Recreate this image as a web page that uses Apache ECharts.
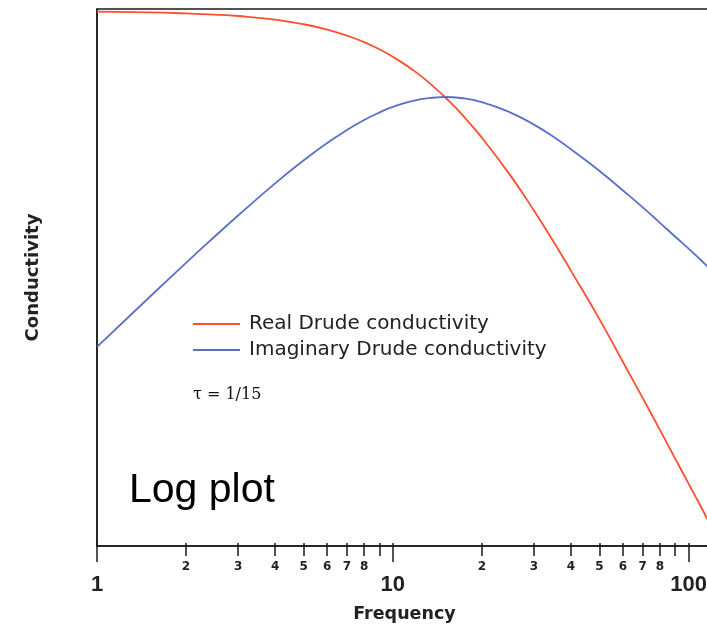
<!DOCTYPE html>
<html>
<head>
<meta charset="utf-8">
<script src="https://cdn.jsdelivr.net/npm/echarts@6/dist/echarts.min.js"></script>
<style>
html,body{margin:0;padding:0;background:#fff;}
#c{width:707px;height:628px;}
</style>
</head>
<body>
<div id="c"></div>
<script>
// Frequencies (x) and conductivity values
var freq = [1, 1.5, 2, 2.5, 3, 4, 5, 6, 7, 8, 9, 10, 12, 14, 15, 17, 20, 25, 30, 35, 40, 50, 60, 70, 80, 90, 100, 110, 120];
var realCond = [0.996, 0.990, 0.982, 0.973, 0.962, 0.934, 0.900, 0.862, 0.821, 0.779, 0.735, 0.692, 0.610, 0.534, 0.500, 0.438, 0.360, 0.265, 0.200, 0.155, 0.123, 0.083, 0.0588, 0.0439, 0.0340, 0.0270, 0.0220, 0.0183, 0.0154];
var imagCond = [0.0664, 0.0990, 0.131, 0.162, 0.192, 0.249, 0.300, 0.345, 0.383, 0.415, 0.441, 0.462, 0.488, 0.498, 0.500, 0.496, 0.480, 0.441, 0.400, 0.362, 0.328, 0.275, 0.235, 0.205, 0.181, 0.162, 0.147, 0.134, 0.123];

// Tick labels
var majorTicks = [1, 10, 100];
var minorTicks = [2, 3, 4, 5, 6, 7, 8, 9, 20, 30, 40, 50, 60, 70, 80, 90];
var minorLabels = [2, 3, 4, 5, 6, 7, 8, 20, 30, 40, 50, 60, 70, 80];
var allTicks = majorTicks.concat(minorTicks);

var seriesNames = ['Real Drude conductivity', 'Imaginary Drude conductivity'];

function pairs(xs, ys) {
  return xs.map(function (x, i) { return [x, ys[i]]; });
}

var axisColor = '#1a1a1a';
var chart = echarts.init(document.getElementById('c'), null, {renderer: 'canvas'});
chart.setOption({
  animation: false,
  backgroundColor: '#ffffff',
  grid: {
    left: 97, top: 9, width: 615, height: 537,
    outerBoundsMode: 'none', containLabel: false,
    show: true, borderColor: axisColor, borderWidth: 1.5, backgroundColor: 'transparent'
  },
  xAxis: [
    {
      type: 'log', logBase: 10, min: 1, max: 120, position: 'bottom', offset: 0,
      axisLine: {show: true, lineStyle: {color: axisColor, width: 1.5}},
      axisTick: {show: true, customValues: minorTicks, length: 10, lineStyle: {color: axisColor, width: 1.5}},
      axisLabel: {
        show: true, customValues: minorLabels, margin: 14,
        fontFamily: 'DejaVu Sans', fontSize: 12, fontWeight: 'bold', color: '#222', lineHeight: 13,
        formatter: function (v) { return String(Math.round(v)).charAt(0); }
      },
      splitLine: {show: false},
      name: 'Frequency', nameLocation: 'middle', nameGap: 59,
      nameTextStyle: {fontFamily: 'DejaVu Sans', fontSize: 17.5, fontWeight: 'bold', color: '#222'}
    },
    {
      type: 'log', logBase: 10, min: 1, max: 120, position: 'bottom', offset: 0,
      axisLine: {show: false},
      axisTick: {show: true, customValues: majorTicks, length: 16, lineStyle: {color: axisColor, width: 1.5}},
      axisLabel: {
        show: true, customValues: majorTicks, margin: 28,
        fontFamily: 'Liberation Sans', fontSize: 22, fontWeight: 'bold', color: '#222', lineHeight: 22,
        formatter: function (v) { return String(Math.round(v)); }
      },
      splitLine: {show: false}
    },
    {
      type: 'log', logBase: 10, min: 1, max: 120, position: 'bottom', offset: 0,
      axisLine: {show: false},
      axisTick: {show: true, inside: true, customValues: allTicks, length: 3, lineStyle: {color: axisColor, width: 1.5}},
      axisLabel: {show: false},
      splitLine: {show: false}
    }
  ],
  yAxis: {
    type: 'log', logBase: 10, min: 0.0133, max: 1.018,
    axisLine: {show: true, lineStyle: {color: axisColor, width: 1.5}},
    axisTick: {show: false},
    axisLabel: {show: false},
    splitLine: {show: false},
    name: 'Conductivity', nameLocation: 'middle', nameGap: 55,
    nameTextStyle: {fontFamily: 'DejaVu Sans', fontSize: 18, fontWeight: 'bold', color: '#222'}
  },
  legend: {
    orient: 'vertical', left: 193, top: 311, padding: 0,
    itemWidth: 47, itemHeight: 2, itemGap: 0, icon: 'rect',
    textStyle: {fontFamily: 'DejaVu Sans', fontSize: 20, color: '#222', lineHeight: 26, padding: [0, 0, 0, 4]},
    data: seriesNames
  },
  series: [
    {
      name: seriesNames[0], type: 'line', xAxisIndex: 0,
      data: pairs(freq, realCond), smooth: true, showSymbol: false, symbol: 'none',
      lineStyle: {color: '#ff4f2e', width: 1.8}, itemStyle: {color: '#ff4f2e'}
    },
    {
      name: seriesNames[1], type: 'line', xAxisIndex: 0,
      data: pairs(freq, imagCond), smooth: true, showSymbol: false, symbol: 'none',
      lineStyle: {color: '#5a70c6', width: 1.8}, itemStyle: {color: '#5a70c6'}
    }
  ],
  graphic: [
    {type: 'text', x: 193, y: 395, style: {text: 'τ = 1/15', font: '16px "DejaVu Serif"', fill: '#111', verticalAlign: 'middle'}},
    {type: 'text', x: 129, y: 491, style: {text: 'Log plot', font: '41px "Liberation Sans"', fill: '#000', verticalAlign: 'middle'}}
  ]
});
</script>
</body>
</html>
